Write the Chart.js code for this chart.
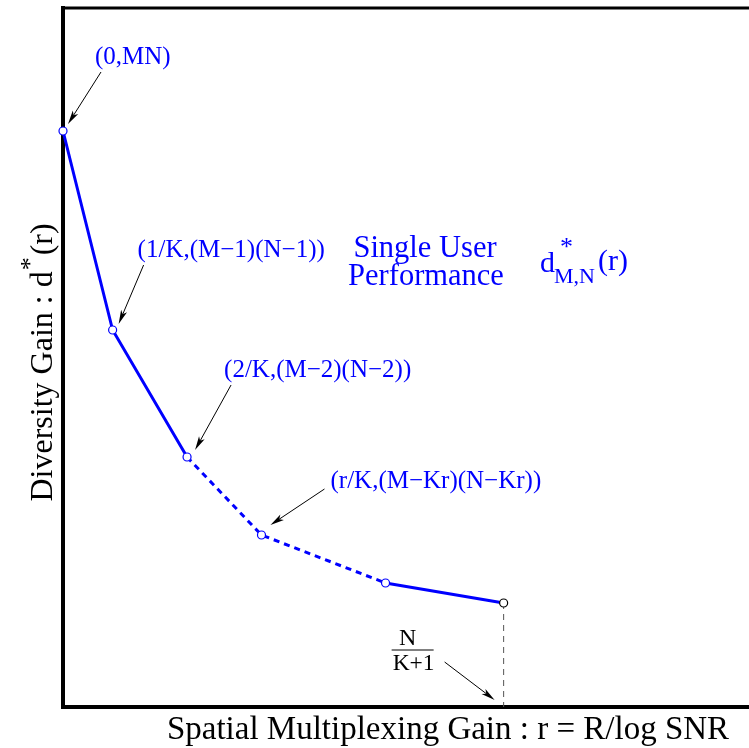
<!DOCTYPE html>
<html>
<head>
<meta charset="utf-8">
<script src="https://cdn.jsdelivr.net/npm/chart.js@4"></script>
<style>
  html, body { margin: 0; padding: 0; background: #fff; }
  canvas { display: block; }
</style>
</head>
<body>
<canvas id="dmtChart" width="749" height="748"></canvas>
<script>
// tradeoff curve: multiplexing gain r vs diversity gain d(r)
const rValues = [0, 0.50, 1.25, 2.00, 3.25, 4.44];
const dValues = [5.76, 3.77, 2.50, 1.72, 1.24, 1.04];
const pointLabels = ['(0,MN)', '(1/K,(M\u22121)(N\u22121))', '(2/K,(M\u22122)(N\u22122))', '(r/K,(M\u2212Kr)(N\u2212Kr))', '', ''];
const dashedFrom = [2, 3];          // segments starting at these points are dashed
const fracTop = 'N';
const fracBottom = 'K+1';

const BLUE = '#0000ff';
const SERIF = '"Liberation Serif", "Times New Roman", serif';

// label placement next to each point: text left/baseline, arrow start, arrow tip (px offsets)
const labelOffsets = [
  { tx: 32, ty: -67, ax: 38, ay: -59, hx: 5, hy: -7 },
  { tx: 25, ty: -73, ax: 31, ay: -65, hx: 6, hy: -6 },
  { tx: 37, ty: -80, ax: 44, ay: -72, hx: 8, hy: -7 },
  { tx: 69, ty: -47, ax: 63, ay: -46, hx: 9, hy: -10 }
];

const points = rValues.map((r, i) => ({ x: r, y: dValues[i] }));

function text(ctx, str, x, y, size, color, align = 'left') {
  ctx.save();
  ctx.font = size + 'px ' + SERIF;
  ctx.fillStyle = color;
  ctx.textBaseline = 'alphabetic';
  ctx.textAlign = align;
  ctx.fillText(str, x, y);
  ctx.restore();
}

function arrow(ctx, x1, y1, x2, y2) {
  const ang = Math.atan2(y2 - y1, x2 - x1);
  const len = 14, half = 3.2;
  ctx.save();
  ctx.strokeStyle = '#000';
  ctx.fillStyle = '#000';
  ctx.lineWidth = 1;
  ctx.beginPath();
  ctx.moveTo(x1, y1);
  ctx.lineTo(x2 - Math.cos(ang) * len * 0.7, y2 - Math.sin(ang) * len * 0.7);
  ctx.stroke();
  ctx.translate(x2, y2);
  ctx.rotate(ang);
  ctx.beginPath();
  ctx.moveTo(0, 0);
  ctx.lineTo(-len, -half);
  ctx.lineTo(-len * 0.75, 0);
  ctx.lineTo(-len, half);
  ctx.closePath();
  ctx.fill();
  ctx.restore();
}

const framePlugin = {
  id: 'frame',
  beforeDatasetsDraw(chart) {
    const { ctx, chartArea: a } = chart;
    ctx.save();
    ctx.strokeStyle = '#000';
    ctx.lineCap = 'square';
    ctx.lineWidth = 3;
    ctx.beginPath();
    ctx.moveTo(a.left, a.top);
    ctx.lineTo(a.right + 5, a.top);
    ctx.stroke();
    ctx.lineWidth = 4;
    ctx.beginPath();
    ctx.moveTo(a.left, a.top);
    ctx.lineTo(a.left, a.bottom);
    ctx.lineTo(a.right + 5, a.bottom);
    ctx.stroke();
    ctx.restore();
  }
};

const notesPlugin = {
  id: 'notes',
  afterDatasetsDraw(chart) {
    const { ctx, chartArea: a } = chart;
    const xs = chart.scales.x, ys = chart.scales.y;

    // point annotations with arrows
    labelOffsets.forEach((o, i) => {
      const px = xs.getPixelForValue(rValues[i]);
      const py = ys.getPixelForValue(dValues[i]);
      text(ctx, pointLabels[i], px + o.tx, py + o.ty, 25, BLUE);
      arrow(ctx, px + o.ax, py + o.ay, px + o.hx, py + o.hy);
    });

    // N/(K+1) mark on the r axis
    const last = rValues.length - 1;
    const fx = xs.getPixelForValue(rValues[last]);
    const fy = ys.getPixelForValue(0);
    text(ctx, fracTop, fx - 96, fy - 62, 24, '#000', 'center');
    text(ctx, fracBottom, fx - 90, fy - 37, 23.5, '#000', 'center');
    ctx.save();
    ctx.strokeStyle = '#000';
    ctx.lineWidth = 1;
    ctx.beginPath();
    ctx.moveTo(fx - 112, fy - 57);
    ctx.lineTo(fx - 70, fy - 57);
    ctx.stroke();
    ctx.restore();
    arrow(ctx, fx - 59, fy - 45, fx - 9, fy - 7);

    // curve caption
    const L = a.left, T = a.top;
    text(ctx, 'Single User', L + 362, T + 249, 30.5, BLUE, 'center');
    text(ctx, 'Performance', L + 363, T + 277, 30.5, BLUE, 'center');
    text(ctx, 'd', L + 477, T + 264, 30, BLUE);
    text(ctx, '*', L + 497, T + 247, 26, BLUE);
    text(ctx, 'M,N', L + 491, T + 275, 22, BLUE);
    text(ctx, '(r)', L + 535, T + 262, 30, BLUE);

    // axis titles
    text(ctx, 'Spatial Multiplexing Gain : r = R/log SNR', (a.left + 833) / 2, a.bottom + 32, 33, '#000', 'center');

    ctx.save();
    ctx.translate(a.left - 11, (a.top + a.bottom) / 2 + 144);
    ctx.rotate(-Math.PI / 2);
    ctx.fillStyle = '#000';
    ctx.textBaseline = 'alphabetic';
    ctx.font = '32px ' + SERIF;
    const head = 'Diversity Gain : d';
    ctx.fillText(head, 0, 0);
    let w = ctx.measureText(head).width;
    ctx.font = '26px ' + SERIF;
    ctx.fillText('*', w + 1, -14);
    w += ctx.measureText('*').width + 3;
    ctx.font = '32px ' + SERIF;
    ctx.fillText('(r)', w, 0);
    ctx.restore();
  }
};

new Chart(document.getElementById('dmtChart').getContext('2d'), {
  type: 'scatter',
  data: {
    datasets: [
      {
        data: points,
        showLine: true,
        borderColor: BLUE,
        borderWidth: 3,
        tension: 0,
        clip: false,
        pointRadius: 4,
        pointBorderWidth: 1.2,
        pointBackgroundColor: '#fff',
        pointBorderColor: points.map((p, i) => i === points.length - 1 ? '#000' : BLUE),
        segment: {
          borderDash: ctx => dashedFrom.includes(ctx.p0DataIndex) ? [6, 5] : undefined
        },
        order: 0
      },
      {
        // drop line from the last corner point down to the r axis
        data: [{ x: rValues[rValues.length - 1], y: dValues[dValues.length - 1] }, { x: rValues[rValues.length - 1], y: 0 }],
        showLine: true,
        borderColor: '#555',
        borderWidth: 1,
        borderDash: [6, 5],
        pointRadius: 0,
        clip: false,
        order: 1
      }
    ]
  },
  options: {
    responsive: false,
    animation: false,
    devicePixelRatio: 1,
    layout: { padding: { left: 63, top: 8, right: 0, bottom: 41 } },
    scales: {
      x: { type: 'linear', min: 0, max: 6.86, display: false },
      y: { type: 'linear', min: 0, max: 6.99, display: false }
    },
    plugins: {
      legend: { display: false },
      tooltip: { enabled: false }
    }
  },
  plugins: [framePlugin, notesPlugin]
});
</script>
</body>
</html>
